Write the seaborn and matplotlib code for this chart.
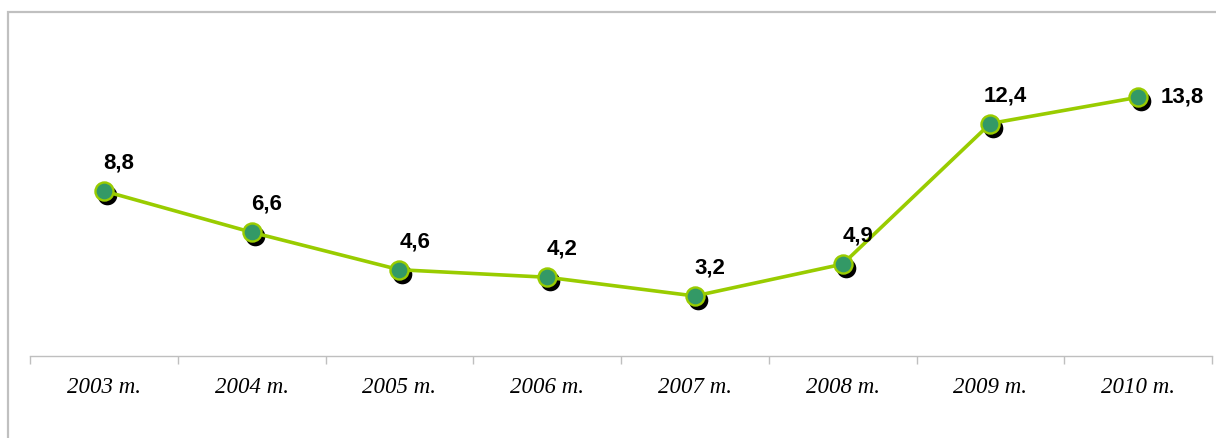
import matplotlib
matplotlib.use("Agg")
import matplotlib.pyplot as plt
import matplotlib.transforms as mtransforms
from matplotlib.patches import Rectangle
import seaborn as sns
import pandas as pd

years = ["2003 m.", "2004 m.", "2005 m.", "2006 m.", "2007 m.", "2008 m.", "2009 m.", "2010 m."]
values = [8.8, 6.6, 4.6, 4.2, 3.2, 4.9, 12.4, 13.8]
value_labels = ["8,8", "6,6", "4,6", "4,2", "3,2", "4,9", "12,4", "13,8"]

df = pd.DataFrame({"pos": range(len(years)), "value": values})

sns.set_style("white")
plt.rcParams["font.family"] = ["Liberation Sans", "DejaVu Sans"]
plt.rcParams["text.color"] = "black"
plt.rcParams["xtick.color"] = "black"

fig = plt.figure(figsize=(12.16, 4.38), dpi=100)
ax = fig.add_axes([30 / 1216, 82 / 438, 1182 / 1216, 300 / 438])

# outer frame of the chart
fig.patches.append(Rectangle((8 / 1216, -0.1), 1.2, (438 - 12) / 438 + 0.1,
                             transform=fig.transFigure, fill=False,
                             edgecolor="#C0C0C0", linewidth=1.6, clip_on=False))

line_col = "#99CC00"
fill_col = "#339966"

shadow = mtransforms.offset_copy(ax.transData, fig=fig, x=3, y=-4, units="dots")
sns.scatterplot(data=df, x="pos", y="value", ax=ax, color="black", s=200,
                edgecolor="black", linewidth=0, transform=shadow, zorder=2, legend=False)
sns.lineplot(data=df, x="pos", y="value", ax=ax, color=line_col, linewidth=2.6,
             marker="o", markersize=13, markerfacecolor=fill_col,
             markeredgecolor=line_col, markeredgewidth=1.7, zorder=3)

for i, (v, lab) in enumerate(zip(values, value_labels)):
    if i == len(values) - 1:
        ax.annotate(lab, (i, v), xytext=(16, 0), textcoords="offset points",
                    ha="left", va="center", fontsize=16, fontweight="bold", color="black")
    else:
        ax.annotate(lab, (i, v), xytext=(11, 20), textcoords="offset points",
                    ha="center", va="center", fontsize=16, fontweight="bold", color="black")

ax.set_xlim(-0.5, len(years) - 0.5)
ax.set_ylim(0, 16)
ax.set_xticks(range(len(years)))
ax.set_xticklabels(years, fontfamily="Liberation Serif", fontstyle="italic", fontsize=16.5)
ax.set_xticks([i - 0.5 for i in range(len(years) + 1)], minor=True)
ax.tick_params(axis="x", which="major", length=0, pad=15, labelcolor="black")
ax.tick_params(axis="x", which="minor", bottom=True, length=6, color="#BFBFBF",
               width=1, direction="out")
ax.set_yticks([])
ax.set_xlabel("")
ax.set_ylabel("")
for s in ["top", "right", "left"]:
    ax.spines[s].set_visible(False)
ax.spines["bottom"].set_color("#BFBFBF")
ax.spines["bottom"].set_linewidth(1)

fig.savefig("out.png", dpi=100)
